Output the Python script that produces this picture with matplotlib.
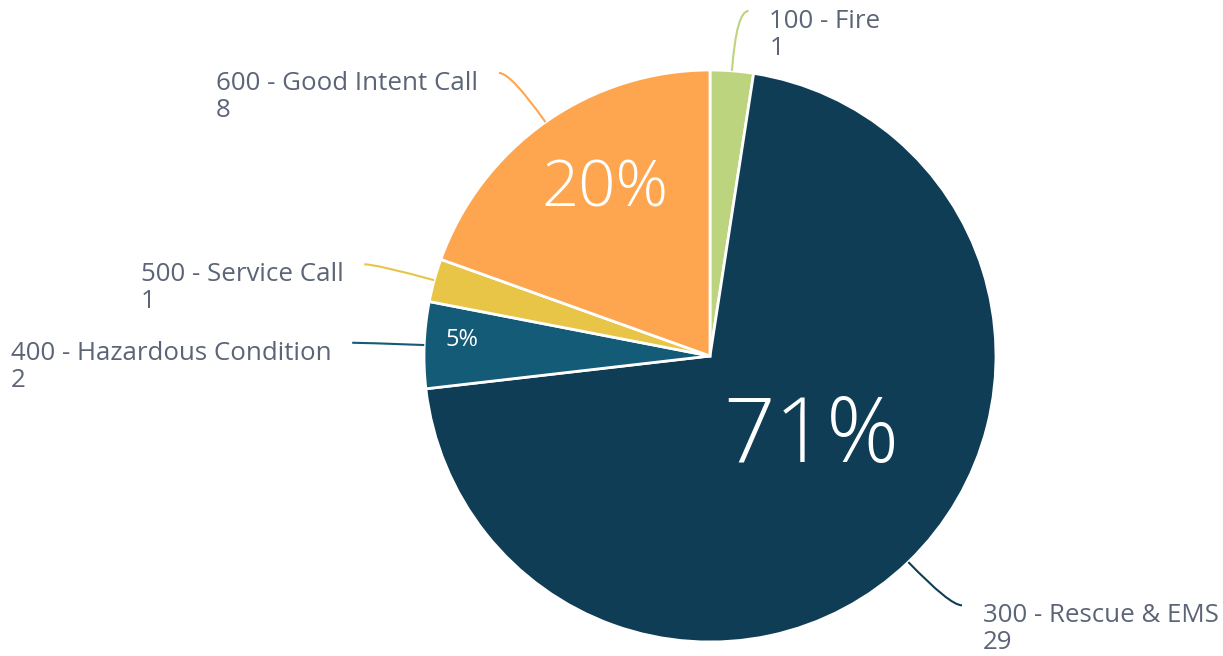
import numpy as np
import matplotlib
matplotlib.use("Agg")
import matplotlib.pyplot as plt
from matplotlib.path import Path
from matplotlib.patches import PathPatch

# ---- data ----
categories = ["100 - Fire", "300 - Rescue & EMS", "400 - Hazardous Condition",
              "500 - Service Call", "600 - Good Intent Call"]
counts = [1, 29, 2, 1, 8]
colors = ["#bdd47f", "#0f3d55", "#135b77", "#e8c547", "#fea64f"]

TEXT_COLOR = "#5b6577"
FONT = ["Open Sans", "DejaVu Sans"]

W, H = 1223, 656
fig = plt.figure(figsize=(W / 100, H / 100), dpi=100)
ax = fig.add_axes([0, 0, 1, 1])

cx, cy = 710, H - 356
R = 286

wedges, _ = ax.pie(counts, colors=colors, startangle=90, counterclock=False,
                   radius=R, center=(cx, cy),
                   wedgeprops=dict(edgecolor="white", linewidth=2))
ax.set_xlim(0, W)
ax.set_ylim(0, H)
ax.set_aspect("equal")
ax.axis("off")

total = sum(counts)
# percent labels (baseline anchored): (distance fraction, fontsize, weight)
pct_layout = {1: (0.512, 65, "light"), 2: (0.869, 17, "normal"), 4: (0.641, 47, "light")}
for i, w in enumerate(wedges):
    mid = np.deg2rad((w.theta1 + w.theta2) / 2)
    # leader line + category label
    p0 = (cx + R * np.cos(mid), cy + R * np.sin(mid))
    p1 = (cx + 1.21 * R * np.cos(mid), cy + 1.21 * R * np.sin(mid))
    side = 1 if np.cos(mid) >= 0 else -1
    p2 = (p1[0] + side * 12, p1[1])
    path = Path([p0, p1, p2], [Path.MOVETO, Path.CURVE3, Path.CURVE3])
    ax.add_patch(PathPatch(path, fill=False, edgecolor=colors[i], lw=1.5))
    ax.text(p2[0] + side * 21, p2[1] + 2,
            f"{categories[i]}\n{counts[i]}",
            ha="left" if side > 0 else "right", va="top",
            multialignment="left", fontsize=18.6, color=TEXT_COLOR,
            family=FONT, linespacing=1.1)
    if i in pct_layout:
        frac, fs, wt = pct_layout[i]
        pct = round(100 * counts[i] / total)
        ax.text(cx + frac * R * np.cos(mid), cy + frac * R * np.sin(mid), f"{pct}%",
                ha="center", va="baseline", color="white", fontsize=fs,
                family=FONT, fontweight=wt)

fig.savefig("out.png", dpi=100)
